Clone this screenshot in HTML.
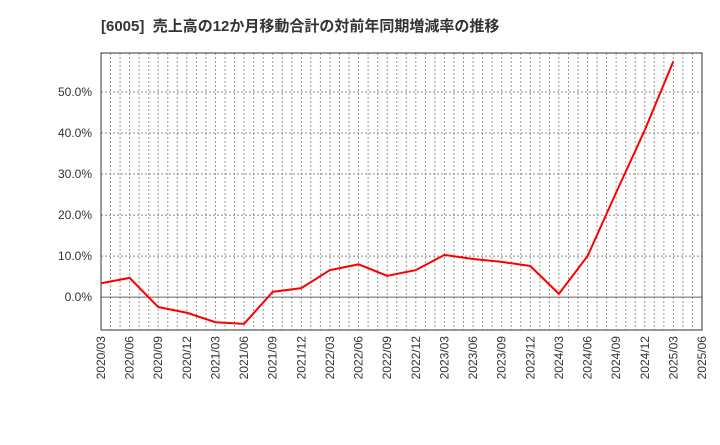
<!DOCTYPE html>
<html><head><meta charset="utf-8"><style>
body{margin:0;background:#fff;width:720px;height:440px;overflow:hidden}
svg text{font-family:"Liberation Sans","Noto Sans CJK JP",sans-serif}
</style></head><body>
<svg id="c" width="720" height="440">
<text x="101" y="31" font-size="15" font-weight="bold" fill="#333" style="white-space:pre">[6005]  売上高の12か月移動合計の対前年同期増減率の推移</text>
</svg>
<script>
const categories=["2020/03","2020/06","2020/09","2020/12","2021/03","2021/06","2021/09","2021/12","2022/03","2022/06","2022/09","2022/12","2023/03","2023/06","2023/09","2023/12","2024/03","2024/06","2024/09","2024/12","2025/03","2025/06"];
const values=[3.4,4.7,-2.4,-3.8,-6.1,-6.5,1.3,2.2,6.6,8.0,5.2,6.6,10.3,9.3,8.6,7.6,0.8,10.0,25.5,40.7,57.5];
const yTicks=[0,10,20,30,40,50];
const L=101,R=702,T=53,B=330,yMin=-8,yMax=59.5;
const ns="http://www.w3.org/2000/svg",svg=document.getElementById('c');
const xs=i=>L+(R-L)*i/(categories.length-1);
const ys=v=>B-(v-yMin)/(yMax-yMin)*(B-T);
function mk(t,a,p){const e=document.createElementNS(ns,t);for(const k in a)e.setAttribute(k,a[k]);(p||svg).appendChild(e);return e;}
const g=mk('g',{});


for(let m=1;m<(categories.length-1)*3;m++){const x=L+(R-L)*m/((categories.length-1)*3);
mk('line',{x1:x,x2:x,y1:T,y2:B,stroke:'#999','stroke-dasharray':'2,2','stroke-width':1},g);}
yTicks.forEach(v=>{const y=ys(v);
mk('line',{x1:L,x2:R,y1:y,y2:y,stroke:v===0?'#666':'#888','stroke-dasharray':v===0?'none':'2,2','stroke-width':1},g);
const t=mk('text',{x:L-9,y:y+4,'text-anchor':'end','font-size':12,fill:'#333'});t.textContent=v.toFixed(1)+'%';

});
const f=mk('rect',{x:L,y:T,width:R-L,height:B-T,fill:'none',stroke:'#333','stroke-width':1});


categories.forEach((c,i)=>{const x=xs(i);
const t=mk('text',{transform:`translate(${x+4},${B+6}) rotate(-90)`,'text-anchor':'end','font-size':12,fill:'#333'});t.textContent=c;

});
const p=mk('polyline',{points:values.map((v,i)=>xs(i)+','+ys(v)).join(' '),fill:'none',stroke:'#f00','stroke-width':2});


</script>
</body></html>
